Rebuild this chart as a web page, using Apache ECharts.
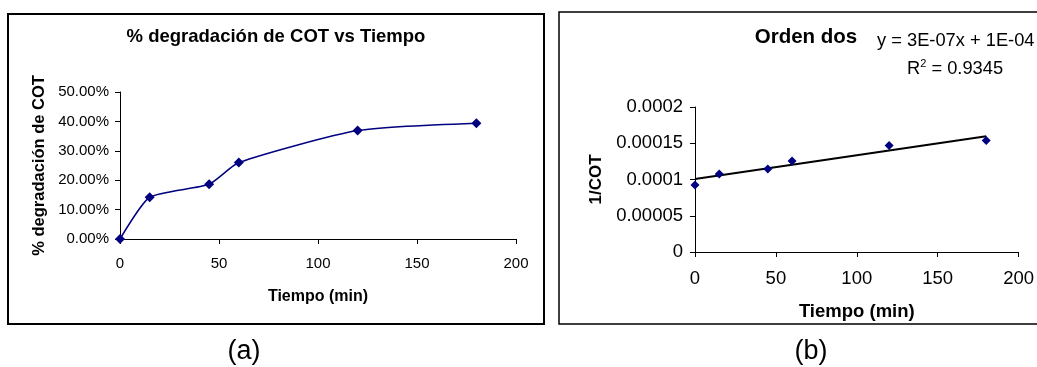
<!DOCTYPE html>
<html>
<head>
<meta charset="utf-8">
<script src="https://cdn.jsdelivr.net/npm/echarts@6/dist/echarts.min.js"></script>
<style>
html,body{margin:0;padding:0;background:#fff;}
#c{width:1037px;height:367px;}
</style>
</head>
<body>
<div id="c"></div>
<script>
// Panel (a): % degradación de COT vs Tiempo
const tiempoA = [0, 15, 45, 60, 120, 180];
const degradacion = [0.0, 0.142, 0.186, 0.260, 0.369, 0.394];
const yTicksA = ['0.00%', '10.00%', '20.00%', '30.00%', '40.00%', '50.00%'];
const xTicks = ['0', '50', '100', '150', '200'];

// Panel (b): Orden dos, 1/COT vs Tiempo
const tiempoB = [0, 15, 45, 60, 120, 180];
const invCOT = [0.0000924, 0.0001076, 0.0001144, 0.0001254, 0.0001469, 0.0001538];
const trendX = [0, 180];
const trendY = [0.0001007, 0.0001597];
const yTicksB = ['0', '0.00005', '0.0001', '0.00015', '0.0002'];

const FONT = '"Liberation Sans", Arial, sans-serif';
const chart = echarts.init(document.getElementById('c'), null, {renderer: 'canvas'});

function axisCommon(fontSize) {
  return {
    axisLine: {show: true, lineStyle: {color: '#000', width: 1}},
    axisTick: {show: true, length: 5, lineStyle: {color: '#000'}},
    splitLine: {show: false},
    axisLabel: {color: '#000', fontFamily: FONT, fontSize: fontSize},
    nameTextStyle: {color: '#000', fontFamily: FONT, fontWeight: 'bold'}
  };
}

const xA = Object.assign(axisCommon(15), {
  gridIndex: 0, type: 'value', min: 0, max: 200, interval: 50,
  name: 'Tiempo (min)', nameLocation: 'middle', nameGap: 50
});
xA.axisLabel = Object.assign(xA.axisLabel, {margin: 17, formatter: (v) => xTicks[Math.round(v / 50)]});
xA.nameTextStyle.fontSize = 16;

const yA = Object.assign(axisCommon(15), {
  gridIndex: 0, type: 'value', min: 0, max: 0.5, interval: 0.1,
  name: '% degradación de COT', nameLocation: 'middle', nameGap: 72, nameRotate: 90
});
yA.axisLabel = Object.assign(yA.axisLabel, {margin: 11, formatter: (v) => yTicksA[Math.round(v / 0.1)]});
yA.nameTextStyle.fontSize = 16.5;

const xB = Object.assign(axisCommon(18.5), {
  gridIndex: 1, type: 'value', min: 0, max: 200, interval: 50,
  name: 'Tiempo (min)', nameLocation: 'middle', nameGap: 50
});
xB.axisLabel = Object.assign(xB.axisLabel, {margin: 17, formatter: (v) => xTicks[Math.round(v / 50)]});
xB.nameTextStyle.fontSize = 18.5;

const yB = Object.assign(axisCommon(18.5), {
  gridIndex: 1, type: 'value', min: 0, max: 0.0002, interval: 0.00005,
  name: '1/COT', nameLocation: 'middle', nameGap: 90, nameRotate: 90
});
yB.axisLabel = Object.assign(yB.axisLabel, {margin: 12, formatter: (v) => yTicksB[Math.round(v / 0.00005)]});
yB.nameTextStyle.fontSize = 17;

chart.setOption({
  animation: false,
  backgroundColor: '#fff',
  textStyle: {fontFamily: FONT},
  grid: [
    {left: 120, right: 521, top: 92, bottom: 128, containLabel: false},
    {left: 695, right: 10, top: 107, bottom: 115, containLabel: false}
  ],
  xAxis: [xA, xB],
  yAxis: [yA, yB],
  series: [
    {
      type: 'line', xAxisIndex: 0, yAxisIndex: 0,
      data: tiempoA.map((t, i) => [t, degradacion[i]]),
      smooth: 0.2,
      symbol: 'diamond', symbolSize: 10,
      lineStyle: {color: '#000080', width: 1.5},
      itemStyle: {color: '#000080', opacity: 1}
    },
    {
      type: 'line', xAxisIndex: 1, yAxisIndex: 1,
      data: trendX.map((t, i) => [t, trendY[i]]),
      symbol: 'none',
      lineStyle: {color: '#000', width: 2},
      z: 2
    },
    {
      type: 'scatter', xAxisIndex: 1, yAxisIndex: 1,
      data: tiempoB.map((t, i) => [t, invCOT[i]]),
      symbol: 'diamond', symbolSize: 9,
      itemStyle: {color: '#000080', opacity: 1},
      z: 3
    }
  ],
  graphic: [
    {type: 'rect', shape: {x: 8, y: 14, width: 536, height: 310}, style: {fill: 'none', stroke: '#000', lineWidth: 2}, z: -1},
    {type: 'rect', shape: {x: 559, y: 12, width: 500, height: 312}, style: {fill: 'none', stroke: '#000', lineWidth: 1.5}, z: -1},
    {type: 'text', x: 276, y: 37, style: {text: '% degradación de COT vs Tiempo', font: 'bold 18.5px ' + FONT, fill: '#000', textAlign: 'center', textVerticalAlign: 'middle'}},
    {type: 'text', x: 806, y: 37, style: {text: 'Orden dos', font: 'bold 20.5px ' + FONT, fill: '#000', textAlign: 'center', textVerticalAlign: 'middle'}},
    {type: 'text', x: 877, y: 41, style: {text: 'y = 3E-07x + 1E-04', font: '18.3px ' + FONT, fill: '#000', textAlign: 'left', textVerticalAlign: 'middle'}},
    {type: 'text', x: 907, y: 68, style: {
      text: '{r|R}{s|2}{r| = 0.9345}',
      textAlign: 'left', textVerticalAlign: 'middle',
      rich: {
        r: {font: '18.3px ' + FONT, fill: '#000', verticalAlign: 'bottom'},
        s: {font: '11px ' + FONT, fill: '#000', verticalAlign: 'top', padding: [0, 0, 8, 0]}
      }
    }},
    {type: 'text', x: 244, y: 352, style: {text: '(a)', font: '27px ' + FONT, fill: '#000', textAlign: 'center', textVerticalAlign: 'middle'}},
    {type: 'text', x: 811, y: 352, style: {text: '(b)', font: '27px ' + FONT, fill: '#000', textAlign: 'center', textVerticalAlign: 'middle'}}
  ]
});
</script>
</body>
</html>
